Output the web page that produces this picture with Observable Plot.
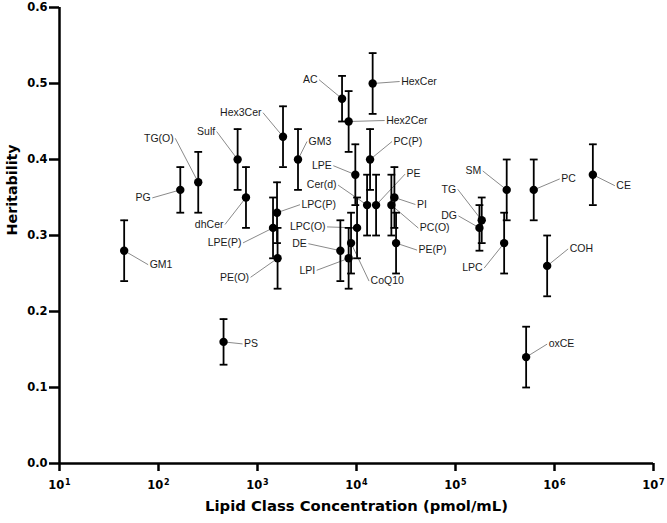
<!DOCTYPE html>
<html>
<head>
<meta charset="utf-8">
<script src="https://cdn.jsdelivr.net/npm/d3@7"></script>
<script src="https://cdn.jsdelivr.net/npm/@observablehq/plot@0.6"></script>
<style>
  html, body { margin: 0; padding: 0; background: #fff; }
  #chart svg { display: block; background: #fff; }
  #chart svg [aria-label="x-axis"] line,
  #chart svg [aria-label="y-axis"] line,
  #chart svg [aria-label="x-axis tick"],
  #chart svg [aria-label="y-axis tick"],
  #chart svg [aria-label="x-axis tick"] path,
  #chart svg [aria-label="y-axis tick"] path { stroke: #000; stroke-width: 2.5px; }
</style>
</head>
<body>
<div id="chart"></div>
<script>
// ---- data ----
const lipidClasses = ["GM1","PG","TG(O)","PS","Sulf","dhCer","LPE(P)","LPC(P)","PE(O)","Hex3Cer","GM3","DE","AC","Hex2Cer","LPI","CoQ10","LPE","LPC(O)","Cer(d)","PC(P)","HexCer","PE","PC(O)","PI","PE(P)","DG","TG","LPC","SM","oxCE","PC","COH","CE"];
const concentration = [45,166,252,454,630,765,1435,1575,1595,1810,2565,6870,7145,8330,8330,8810,9730,10130,12790,13710,14560,15770,22500,24140,25100,174500,184000,310000,329000,517000,617000,843000,2440000];
const heritability = [0.28,0.36,0.37,0.16,0.40,0.35,0.31,0.33,0.27,0.43,0.40,0.28,0.48,0.45,0.27,0.29,0.38,0.31,0.34,0.40,0.50,0.34,0.34,0.35,0.29,0.31,0.32,0.29,0.36,0.14,0.36,0.26,0.38];
const errorHalf = [0.04,0.03,0.04,0.03,0.04,0.04,0.04,0.04,0.04,0.04,0.04,0.04,0.03,0.04,0.04,0.04,0.04,0.04,0.04,0.04,0.04,0.04,0.04,0.04,0.04,0.03,0.03,0.04,0.04,0.04,0.04,0.04,0.04];
const xTicks = [1e1,1e2,1e3,1e4,1e5,1e6,1e7];
const yTicks = [0,0.1,0.2,0.3,0.4,0.5,0.6];

// ---- label leader offsets (pixels from the point) ----
const labelDx = [24,-28,-23,19,-21,-21,-30,23,-27,-20,9,-32,-23,36,-32,18,-22,-30,-29,22,27,29,27,21,21,-21,-24,-20,-24,21,26,21,22];
const labelDy = [14,8,-44,2,-28,27,15,-8,19,-24,-18,-7,-19,-1,12,38,-9,-1,-20,-18,-2,-31,23,7,7,-12,-31,25,-19,-13,-11,-17,11];

// ---- layout ----
const W = 667, H = 523, mL = 59, mR = 14, mT = 7, mB = 60;
const xDomain = [10, 1e7], yDomain = [0, 0.6];

const xs = Plot.scale({x: {type: "log", domain: xDomain, range: [mL, W - mR]}});
const ys = Plot.scale({y: {type: "linear", domain: yDomain, range: [H - mB, mT]}});

const rows = lipidClasses.map((name, i) => {
  const px = xs.apply(concentration[i]) + labelDx[i];
  const py = ys.apply(heritability[i]) + labelDy[i];
  return {
    name,
    conc: concentration[i],
    h: heritability[i],
    lo: heritability[i] - errorHalf[i],
    hi: heritability[i] + errorHalf[i],
    lx: xs.invert(px),
    ly: ys.invert(py),
    anchor: labelDx[i] >= 0 ? "start" : "end"
  };
});

const sup = "⁰¹²³⁴⁵⁶⁷⁸⁹";
const fmtPow = d => "10" + String(Math.round(Math.log10(d))).split("").map(c => sup[+c]).join("");

const cap = {
  draw(context, size) {
    const w = Math.sqrt(size / Math.PI);
    context.moveTo(-w, 0);
    context.lineTo(w, 0);
  }
};

const labelFont = {fontFamily: "Liberation Sans, Arial, sans-serif", fontSize: 10.5, fontWeight: "normal", fill: "#1a1a1a"};

const chart = Plot.plot({
  width: W,
  height: H,
  marginLeft: mL,
  marginRight: mR,
  marginTop: mT,
  marginBottom: mB,
  style: {fontFamily: "DejaVu Sans, sans-serif", fontSize: "11.5px", fontWeight: "bold", color: "#000", background: "#fff", overflow: "visible"},
  x: {type: "log", domain: xDomain, ticks: xTicks, tickFormat: fmtPow, tickSize: 8, tickPadding: 9, label: null},
  y: {domain: yDomain, ticks: yTicks, tickFormat: d => d.toFixed(1), tickSize: 10, tickPadding: 2, label: null},
  marks: [
    Plot.link(rows, {x1: "conc", y1: "h", x2: "lx", y2: "ly", stroke: "#8a8a8a", strokeWidth: 1}),
    Plot.ruleX(rows, {x: "conc", y1: "lo", y2: "hi", stroke: "#000", strokeWidth: 1.8}),
    Plot.dot(rows, {x: "conc", y: "lo", symbol: cap, r: 3.9, stroke: "#000", fill: "none", strokeWidth: 1.8}),
    Plot.dot(rows, {x: "conc", y: "hi", symbol: cap, r: 3.9, stroke: "#000", fill: "none", strokeWidth: 1.8}),
    Plot.dot(rows, {x: "conc", y: "h", r: 4.2, fill: "#000", stroke: "none"}),
    Plot.text(rows, {filter: d => d.anchor === "start", x: "lx", y: "ly", text: "name", textAnchor: "start", dx: 1.5, ...labelFont}),
    Plot.text(rows, {filter: d => d.anchor === "end", x: "lx", y: "ly", text: "name", textAnchor: "end", dx: -1.5, ...labelFont}),
    Plot.ruleX([xDomain[0]], {stroke: "#000", strokeWidth: 2.5}),
    Plot.ruleY([0], {stroke: "#000", strokeWidth: 2.5}),
    Plot.text(["Lipid Class Concentration (pmol/mL)"], {frameAnchor: "bottom", dy: 47, text: d => d, fontSize: 14.8, fontWeight: "bold", fontFamily: "DejaVu Sans, sans-serif", fill: "#000"}),
    Plot.text(["Heritability"], {frameAnchor: "left", dx: -47, rotate: -90, text: d => d, fontSize: 14.3, fontWeight: "bold", fontFamily: "DejaVu Sans, sans-serif", fill: "#000"})
  ]
});

// render the power-of-ten exponents as raised, smaller digits (still real text)
const supRe = /^10([⁰¹²³⁴⁵⁶⁷⁸⁹]+)$/;
chart.querySelectorAll("text").forEach(t => {
  const m = (t.textContent || "").match(supRe);
  if (!m) return;
  const exp = m[1].split("").map(c => sup.indexOf(c)).join("");
  while (t.firstChild) t.removeChild(t.firstChild);
  const ns = "http://www.w3.org/2000/svg";
  const base = document.createElementNS(ns, "tspan");
  base.textContent = "10";
  const e = document.createElementNS(ns, "tspan");
  e.textContent = exp;
  e.setAttribute("font-size", "8px");
  e.setAttribute("dy", "-3.8");
  e.setAttribute("dx", "0.8");
  t.appendChild(base);
  t.appendChild(e);
});

document.getElementById("chart").appendChild(chart);
</script>
</body>
</html>
